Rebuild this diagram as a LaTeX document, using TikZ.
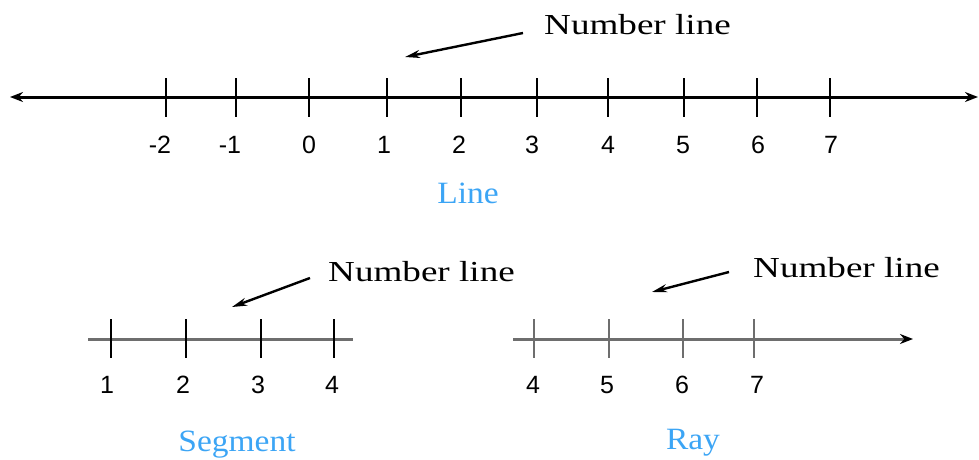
\documentclass[tikz,border=0pt]{standalone}
\usepackage{fontspec}
\setmainfont{Liberation Serif}
\newfontfamily\digitfont{Liberation Sans}
\usetikzlibrary{arrows.meta}
\definecolor{lblue}{RGB}{60,165,245}
\definecolor{lgray}{RGB}{110,110,110}
\begin{document}
\begin{tikzpicture}[x=1pt,y=-1pt,
  mainline/.style={line width=3pt},
  tickmark/.style={line width=2.6pt},
  numlabel/.style={font=\digitfont\fontsize{25}{25}\selectfont, inner sep=0pt},
  calltext/.style={font=\fontsize{29}{29}\selectfont, inner sep=0pt, anchor=west},
  kindlabel/.style={font=\fontsize{31}{31}\selectfont, text=lblue, inner sep=0pt},
  pointer/.style={line width=2.4pt, -{Stealth[length=15pt,width=8pt]}}]
\useasboundingbox (0,0) rectangle (979,460);
% ---------- Line ----------
\coordinate (LA) at (10,97);
\coordinate (LB) at (978,97);
\draw[mainline,{Stealth[length=13pt,width=10pt]}-{Stealth[length=13pt,width=10pt]}] (LA) -- (LB);
\foreach \x/\lx/\v [count=\i] in {166/160/-2,236/230/-1,309/309/0,387/384/1,461/459/2,537/532/3,608/608/4,684/683/5,757/758/6,830/831/7}{
  \draw[tickmark] (\x,78) -- (\x,117);
  \node[numlabel] (ln\i) at (\lx,145) {\v};
}
\node[calltext] (c1) at (544,25) {\scalebox{1.28}[1]{Number line}};
\coordinate (c1s) at (523,33);
\coordinate (c1e) at (405,57);
\draw[pointer] (c1s) -- (c1e);
\node[kindlabel] (k1) at (468,193) {\scalebox{1.08}[1]{Line}};
% ---------- Segment ----------
\coordinate (SA) at (88,339);
\coordinate (SB) at (353,339);
\draw[mainline,lgray] (SA) -- (SB);
\foreach \x/\lx/\v [count=\i] in {111/107/1,186/183/2,261/258/3,334/332/4}{
  \draw[tickmark] (\x,319) -- (\x,358);
  \node[numlabel] (sn\i) at (\lx,385) {\v};
}
\node[calltext] (c2) at (328,272) {\scalebox{1.28}[1]{Number line}};
\coordinate (c2s) at (310,278);
\coordinate (c2e) at (232,307);
\draw[pointer] (c2s) -- (c2e);
\node[kindlabel] (k2) at (237,445) {\scalebox{1.08}[1]{Segment}};
% ---------- Ray ----------
\coordinate (RA) at (513,339);
\coordinate (RB) at (913,339);
\draw[mainline,lgray,-{Stealth[length=13pt,width=10pt,color=black]}] (RA) -- (RB);
\foreach \x/\lx/\v [count=\i] in {534/533/4,609/607/5,683/682/6,754/757/7}{
  \draw[tickmark,lgray] (\x,319) -- (\x,358);
  \node[numlabel] (rn\i) at (\lx,385) {\v};
}
\node[calltext] (c3) at (753,268) {\scalebox{1.28}[1]{Number line}};
\coordinate (c3s) at (729,272);
\coordinate (c3e) at (652,292);
\draw[pointer] (c3s) -- (c3e);
\node[kindlabel] (k3) at (693,443) {\scalebox{1.08}[1]{Ray}};
\end{tikzpicture}
\end{document}
